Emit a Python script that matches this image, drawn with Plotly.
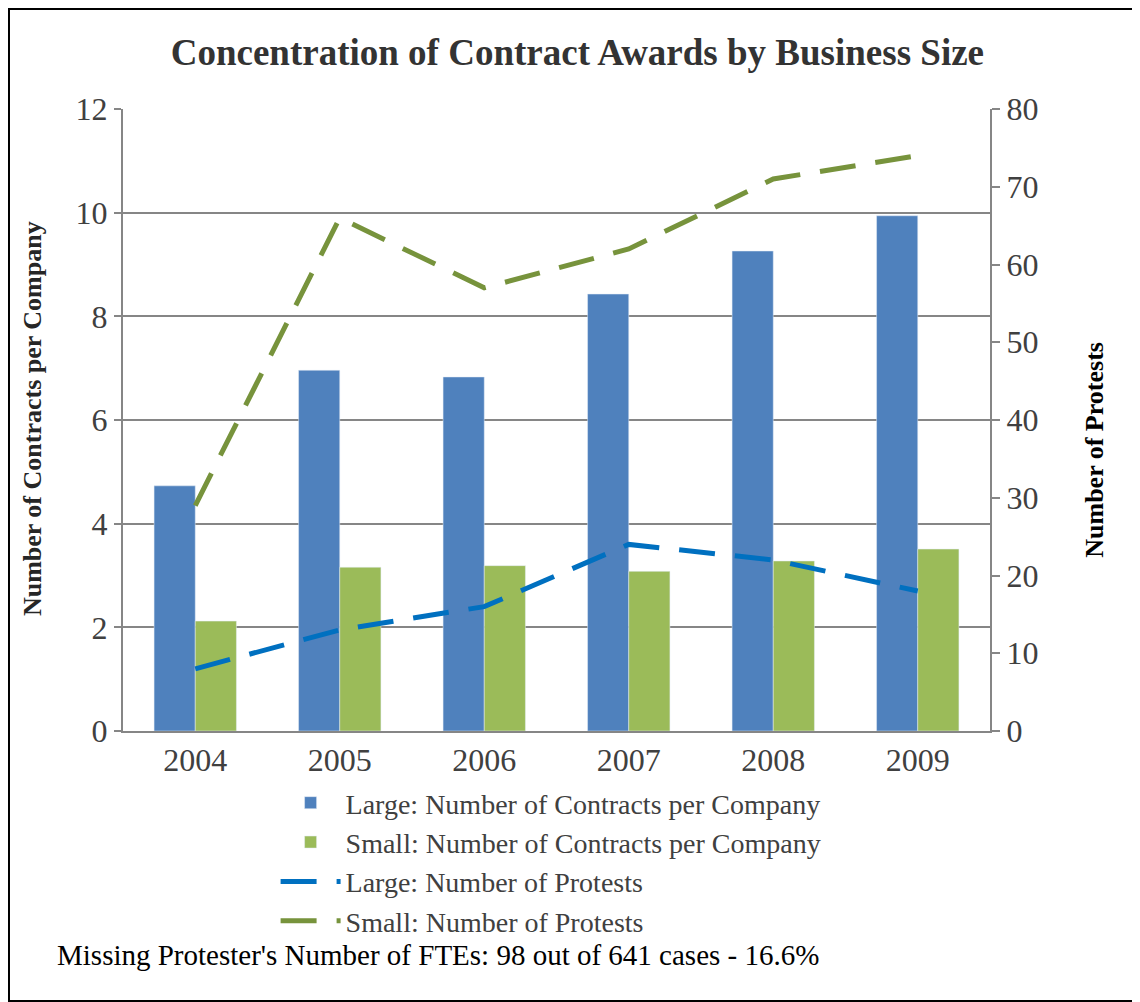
import plotly.graph_objects as go

years = ["2004", "2005", "2006", "2007", "2008", "2009"]
large_contracts = [4.73, 6.96, 6.83, 8.43, 9.26, 9.94]
small_contracts = [2.12, 3.16, 3.19, 3.08, 3.28, 3.51]
large_protests = [8, 13, 16, 24, 22, 18]
small_protests = [29, 66, 57, 62, 71, 74]

serif = "Liberation Serif, Times New Roman, serif"
grid = "#868686"

fig = go.Figure()
fig.add_trace(go.Bar(x=years, y=large_contracts, name="Large: Number of Contracts per Company",
                     marker=dict(color="#4F81BD")))
fig.add_trace(go.Bar(x=years, y=small_contracts, name="Small: Number of Contracts per Company",
                     marker=dict(color="#9BBB59")))
fig.add_trace(go.Scatter(x=years, y=large_protests, name="Large: Number of Protests", yaxis="y2",
                         mode="lines", line=dict(color="#0070C0", width=5, dash="36px,20px")))
fig.add_trace(go.Scatter(x=years, y=small_protests, name="Small: Number of Protests", yaxis="y2",
                         mode="lines", line=dict(color="#77933C", width=5, dash="36px,20px")))

fig.update_layout(
    width=1132, height=994,
    margin=dict(l=115, r=150, t=101, b=271),
    paper_bgcolor="white", plot_bgcolor="white",
    font=dict(family=serif, size=30, color="#404040"),
    title=dict(text="<b>Concentration of Contract Awards by Business Size</b>",
               x=0.503, xanchor="center", y=0.956, yanchor="middle",
               font=dict(family=serif, size=37, color="#333333")),
    barmode="group", bargap=0.43, bargroupgap=0,
    xaxis=dict(type="category", showline=True, linecolor=grid, linewidth=2,
               ticks="", showgrid=False, tickfont=dict(size=32)),
    yaxis=dict(range=[0, 12], dtick=2, showgrid=True, gridcolor=grid, gridwidth=2,
               showline=True, linecolor=grid, linewidth=2, ticks="outside",
               ticklen=7, tickcolor=grid, tickwidth=2, zeroline=False,
               tickfont=dict(size=32)),
    yaxis2=dict(range=[0, 80], dtick=10, overlaying="y", side="right", showgrid=False,
                showline=True, linecolor=grid, linewidth=2, ticks="outside",
                ticklen=8, tickcolor=grid, tickwidth=2, zeroline=False,
                tickfont=dict(size=32)),
    legend=dict(x=0.176, xanchor="left", y=-0.0755, yanchor="top", orientation="v",
                font=dict(family=serif, size=28, color="#404040"), tracegroupgap=0,
                itemwidth=60, traceorder="normal", bgcolor="rgba(0,0,0,0)"),
    showlegend=True,
)

fig.add_annotation(text="<b>Number of Contracts per Company</b>", textangle=-90,
                   xref="paper", yref="paper", x=-0.105, y=0.503, showarrow=False,
                   font=dict(family=serif, size=26, color="#262626"),
                   xanchor="center", yanchor="middle")
fig.add_annotation(text="<b>Number of Protests</b>", textangle=-90,
                   xref="paper", yref="paper", x=1.121, y=0.452, showarrow=False,
                   font=dict(family=serif, size=26, color="#000000"),
                   xanchor="center", yanchor="middle")
fig.add_annotation(text="Missing Protester's Number of FTEs: 98 out of 641 cases - 16.6%",
                   xref="paper", yref="paper", x=-0.0784, y=-0.36, showarrow=False,
                   font=dict(family=serif, size=29, color="#000000"),
                   xanchor="left", yanchor="middle")

fig.add_shape(type="rect", xref="paper", yref="paper",
              x0=-0.1315, x1=1.1707, y0=-0.434, y1=1.1608,
              line=dict(color="black", width=2), fillcolor="rgba(0,0,0,0)")

fig.write_html("out.html")
